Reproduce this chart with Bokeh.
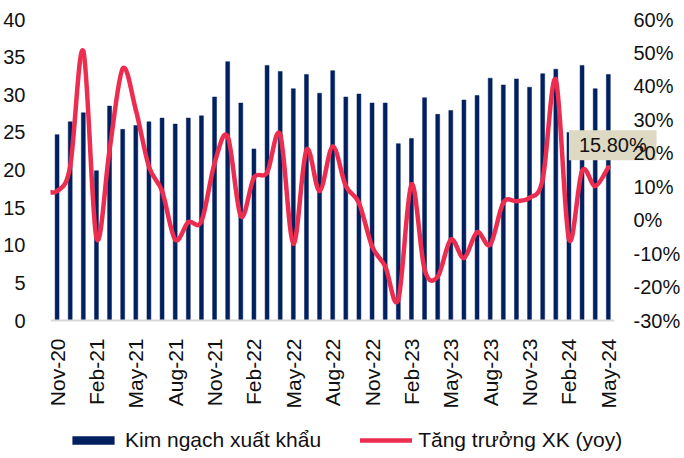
import numpy as np
from bokeh.plotting import figure
from bokeh.models import (Range1d, LinearAxis, FixedTicker, PrintfTickFormatter,
                          Label, Legend, LegendItem)
from bokeh.embed import file_html
from bokeh.resources import INLINE

# ---------------- data ----------------
months = ["Nov-20", "Dec-20", "Jan-21", "Feb-21", "Mar-21", "Apr-21", "May-21",
          "Jun-21", "Jul-21", "Aug-21", "Sep-21", "Oct-21", "Nov-21", "Dec-21",
          "Jan-22", "Feb-22", "Mar-22", "Apr-22", "May-22", "Jun-22", "Jul-22",
          "Aug-22", "Sep-22", "Oct-22", "Nov-22", "Dec-22", "Jan-23", "Feb-23",
          "Mar-23", "Apr-23", "May-23", "Jun-23", "Jul-23", "Aug-23", "Sep-23",
          "Oct-23", "Nov-23", "Dec-23", "Jan-24", "Feb-24", "Mar-24", "Apr-24",
          "May-24"]

# Kim ngạch xuất khẩu (bn USD)
exports = [24.7, 26.4, 27.6, 19.9, 28.5, 25.4, 25.9, 26.4, 26.9, 26.1,
           26.9, 27.2, 29.7, 34.4, 28.9, 22.8, 33.9, 33.1, 30.8, 32.7,
           30.2, 33.2, 29.7, 30.1, 28.9, 28.9, 23.5, 24.2, 29.6, 27.4,
           27.9, 29.3, 29.9, 32.2, 31.3, 32.1, 31.0, 32.8, 33.4, 25.0,
           33.9, 30.8, 32.7]

# Tăng trưởng XK (yoy, %) -- first value (Oct-20) lies just left of the plot
yoy_prev = 9.0
yoy = [8.7, 16.1, 50.5, -5.3, 21.0, 45.3, 33.0, 16.0, 8.7, -5.8,
       -0.6, -0.3, 17.0, 25.0, 1.2, 12.7, 14.2, 25.6, -7.0, 21.0,
       8.7, 22.0, 10.2, 5.2, -7.8, -13.8, -23.7, 10.7, -14.7, -16.9,
       -5.8, -11.3, -3.6, -7.3, 5.2, 5.7, 6.7, 12.2, 42.0, -5.6,
       14.7, 10.2, 15.8]

left_ticks = [0, 5, 10, 15, 20, 25, 30, 35, 40]
right_ticks = [-30, -20, -10, 0, 10, 20, 30, 40, 50, 60]

# ---------------- style / geometry ----------------
FONT = "Liberation Sans"
NAVY = "#002060"
RED = "#EC2D4F"
TXT = "#111111"

W, H = 683, 452
B_LEFT, B_RIGHT, B_TOP, B_BOTTOM = 48, 26, 19, 0
FRAME_W = W - B_LEFT - B_RIGHT
FRAME_H = H - B_TOP - B_BOTTOM
PLOT_H = 301                     # pixel height of the 0..40 value band
UNIT_PX = 13.19                  # horizontal pixels per month

n = len(months)
idx = list(range(n))
x_end = -0.5 + FRAME_W / UNIT_PX
l_lo, l_hi = left_ticks[0], left_ticks[-1]
r_lo, r_hi = right_ticks[0], right_ticks[-1]
ext = FRAME_H / PLOT_H           # frame also hosts tick labels + legend below y=0
left_start = l_hi - (l_hi - l_lo) * ext
right_start = r_hi - (r_hi - r_lo) * ext

p = figure(width=W, height=H, x_range=Range1d(-0.5, x_end),
           y_range=Range1d(left_start, l_hi), output_backend="svg",
           toolbar_location=None, min_border_left=B_LEFT,
           min_border_right=B_RIGHT, min_border_top=B_TOP,
           min_border_bottom=B_BOTTOM)
p.extra_y_ranges = {"yoy": Range1d(right_start, r_hi)}
p.outline_line_color = None
p.xgrid.visible = False
p.ygrid.visible = False
p.background_fill_color = "white"
p.border_fill_color = "white"

bars = p.vbar(x=idx, top=exports, width=0.3, fill_color=NAVY, line_color=NAVY,
              line_width=0.5)

# smooth line (Catmull-Rom -> cubic Bezier) through the data points
lx = np.array([-1] + idx, dtype=float)
ly = np.array([yoy_prev] + yoy, dtype=float)
m = len(lx)
x0, y0, x1, y1, cx0, cy0, cx1, cy1 = ([] for _ in range(8))
for i in range(m - 1):
    a = i - 1 if i > 0 else i
    d = i + 2 if i + 2 < m else i + 1
    x0.append(lx[i]); y0.append(ly[i])
    x1.append(lx[i + 1]); y1.append(ly[i + 1])
    cx0.append(lx[i] + (lx[i + 1] - lx[a]) / 6)
    cy0.append(ly[i] + (ly[i + 1] - ly[a]) / 6)
    cx1.append(lx[i + 1] - (lx[d] - lx[i]) / 6)
    cy1.append(ly[i + 1] - (ly[d] - ly[i]) / 6)
curve = p.bezier(x0=x0, y0=y0, x1=x1, y1=y1, cx0=cx0, cy0=cy0, cx1=cx1, cy1=cy1,
                 line_color=RED, line_width=4.5, line_cap="round",
                 y_range_name="yoy")

# ---------------- axes ----------------
xa = p.xaxis[0]
xa.fixed_location = 0
xa.ticker = FixedTicker(ticks=idx[::3])
xa.major_label_overrides = {i: months[i] for i in idx[::3]}
xa.major_label_orientation = np.pi / 2
xa.major_label_standoff = 12
xa.bounds = (-0.5, n - 0.5)
xa.axis_line_color = "#D9D9D9"
xa.axis_line_width = 2
xa.major_tick_line_color = None
xa.minor_tick_line_color = None

ya = p.yaxis[0]
ya.ticker = FixedTicker(ticks=left_ticks)
ya.major_label_standoff = 19
ya.axis_line_color = None
ya.major_tick_line_color = None
ya.minor_tick_line_color = None

yr = LinearAxis(y_range_name="yoy", ticker=FixedTicker(ticks=right_ticks),
                formatter=PrintfTickFormatter(format="%d%%"))
yr.major_label_standoff = -29
yr.axis_line_color = None
yr.major_tick_line_color = None
yr.minor_tick_line_color = None
p.add_layout(yr, "right")

for ax in (xa, ya, yr):
    ax.major_label_text_font = FONT
    ax.major_label_text_color = TXT
xa.major_label_text_font_size = "21px"
ya.major_label_text_font_size = "20px"
yr.major_label_text_font_size = "20px"

# ---------------- last value label ----------------
lab = Label(x=n - 1 - 3.0, y=yoy[-1] + 6.6, y_range_name="yoy",
            text=f"{yoy[-1]:.2f}%", text_font=FONT, text_font_size="20px",
            text_color=TXT, text_align="left", text_baseline="middle",
            background_fill_color="#DDD9C3",
            padding=dict(left=10, right=26, top=4, bottom=4), level="glyph")
p.add_layout(lab)

# ---------------- legend ----------------
legend = Legend(items=[LegendItem(label="Kim ngạch xuất khẩu", renderers=[bars]),
                       LegendItem(label="Tăng trưởng XK (yoy)", renderers=[curve])],
                orientation="horizontal", location=(17, 0),
                border_line_color=None, background_fill_alpha=0,
                label_text_font=FONT, label_text_font_size="21px",
                label_text_color=TXT, glyph_width=52, glyph_height=10,
                spacing=39, padding=0, margin=0, label_standoff=6)
p.add_layout(legend)

open("out.html", "w").write(file_html(p, INLINE))
